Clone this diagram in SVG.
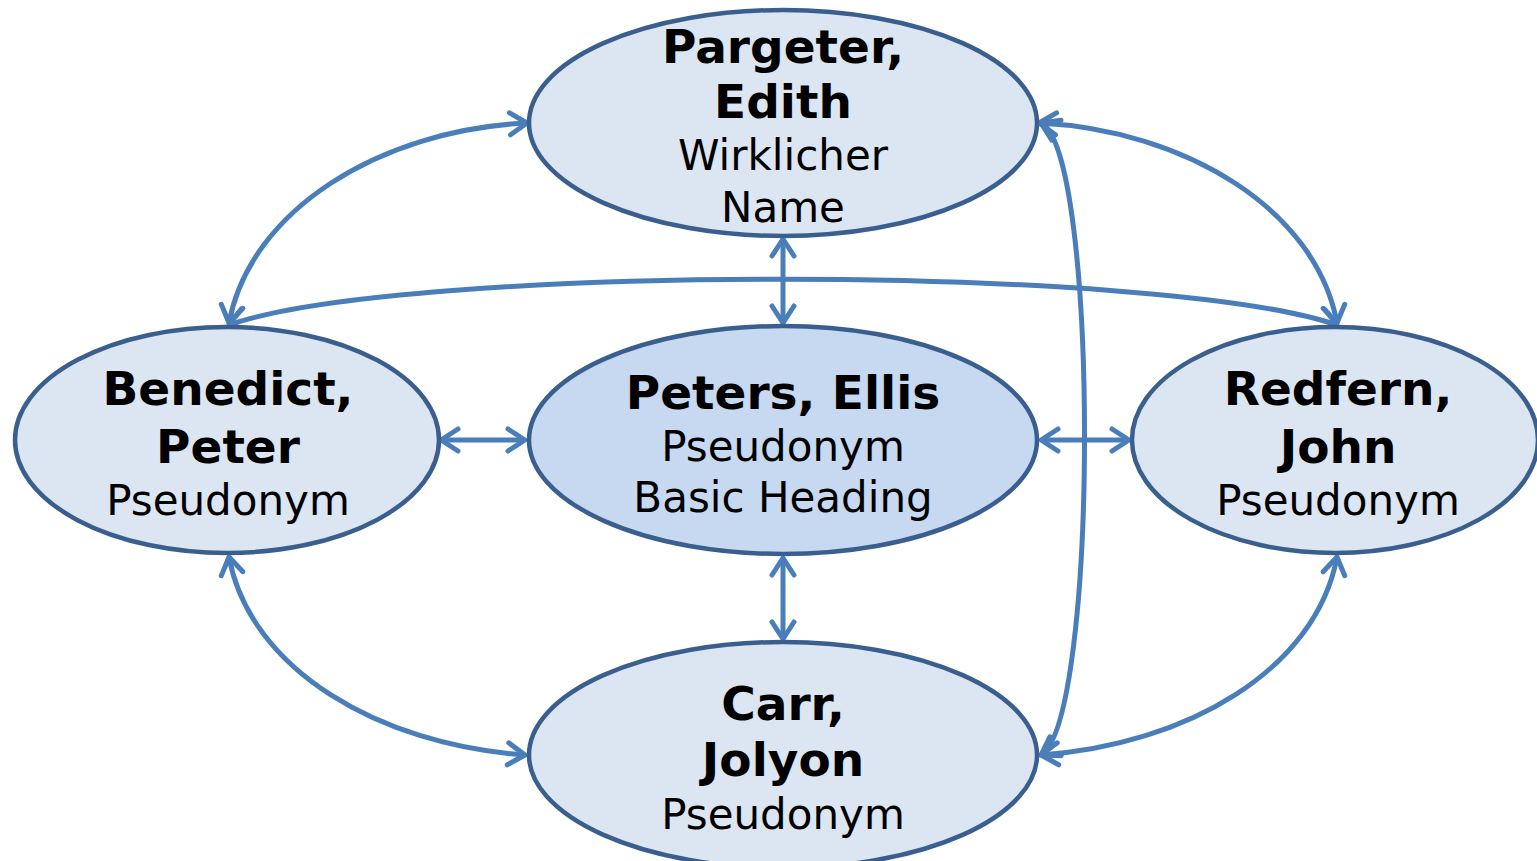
<svg xmlns="http://www.w3.org/2000/svg" width="1537" height="861" viewBox="0 0 1537 861">
<style>
.node ellipse{fill:#dce6f2;stroke:#3a5f8f;stroke-width:4.5}
#peters ellipse{fill:#c6d9f0}
.b{font-family:"DejaVu Sans",Verdana,sans-serif;font-weight:bold;font-size:47px;fill:#000;text-anchor:middle}
.r{font-family:"DejaVu Sans",Verdana,sans-serif;font-size:42px;fill:#000;text-anchor:middle}
.c{fill:none;stroke:#4a7ebb;stroke-width:5}
.m{fill:none;stroke:#4a7ebb;stroke-width:5;stroke-linecap:round;stroke-linejoin:round}
</style>
<defs>
<marker id="ae" markerUnits="userSpaceOnUse" viewBox="-24 -16 30 32" markerWidth="30" markerHeight="32" refX="0" refY="0" orient="auto">
<path class="m" d="M-17,-11 L0,0 L-17,11"/>
</marker>
<marker id="as" markerUnits="userSpaceOnUse" viewBox="-6 -16 30 32" markerWidth="30" markerHeight="32" refX="0" refY="0" orient="auto">
<path class="m" d="M17,-11 L0,0 L17,11"/>
</marker>
</defs>
<rect width="1537" height="861" fill="#fff"/>
<g id="connectors">
<path class="c" marker-start="url(#as)" marker-end="url(#ae)" d="M527,123 C380,130 250,210 229,323"/>
<path class="c" marker-start="url(#as)" marker-end="url(#ae)" d="M1039,123 C1186,130 1316,210 1337,323"/>
<path class="c" marker-start="url(#as)" marker-end="url(#ae)" d="M783,239 L783,323"/>
<path class="c" marker-start="url(#as)" marker-end="url(#ae)" d="M441,440 L525,440"/>
<path class="c" marker-start="url(#as)" marker-end="url(#ae)" d="M1041,440 L1129,440"/>
<path class="c" marker-start="url(#as)" marker-end="url(#ae)" d="M783,558 L783,639"/>
<path class="c" marker-start="url(#as)" marker-end="url(#ae)" d="M229,557 C250,670 380,745 525,755"/>
<path class="c" marker-start="url(#as)" marker-end="url(#ae)" d="M1337,557 C1316,670 1186,745 1041,755"/>
<path class="c" marker-start="url(#as)" marker-end="url(#ae)" d="M229,325 C400,264 1160,264 1337,325"/>
<path class="c" marker-start="url(#as)" marker-end="url(#ae)" d="M1041,123 C1099,150 1099,720 1041,755"/>
</g>
<g id="pargeter" class="node">
<ellipse cx="783" cy="123" rx="254" ry="113"/>
<text class="b" x="783" y="63">Pargeter,</text>
<text class="b" x="783" y="118">Edith</text>
<text class="r" x="783" y="170">Wirklicher</text>
<text class="r" x="783" y="222">Name</text>
</g>
<g id="benedict" class="node">
<ellipse cx="227" cy="440" rx="212" ry="113"/>
<text class="b" x="228" y="405">Benedict,</text>
<text class="b" x="228" y="463">Peter</text>
<text class="r" x="228" y="515">Pseudonym</text>
</g>
<g id="peters" class="node">
<ellipse cx="783" cy="440" rx="254" ry="114"/>
<text class="b" x="783" y="409">Peters, Ellis</text>
<text class="r" x="783" y="461">Pseudonym</text>
<text class="r" x="783" y="512">Basic Heading</text>
</g>
<g id="redfern" class="node">
<ellipse cx="1335" cy="440" rx="203" ry="113"/>
<text class="b" x="1338" y="405">Redfern,</text>
<text class="b" x="1338" y="463">John</text>
<text class="r" x="1338" y="515">Pseudonym</text>
</g>
<g id="carr" class="node">
<ellipse cx="783" cy="755" rx="254" ry="113"/>
<text class="b" x="783" y="720">Carr,</text>
<text class="b" x="783" y="776">Jolyon</text>
<text class="r" x="783" y="829">Pseudonym</text>
</g>
</svg>
